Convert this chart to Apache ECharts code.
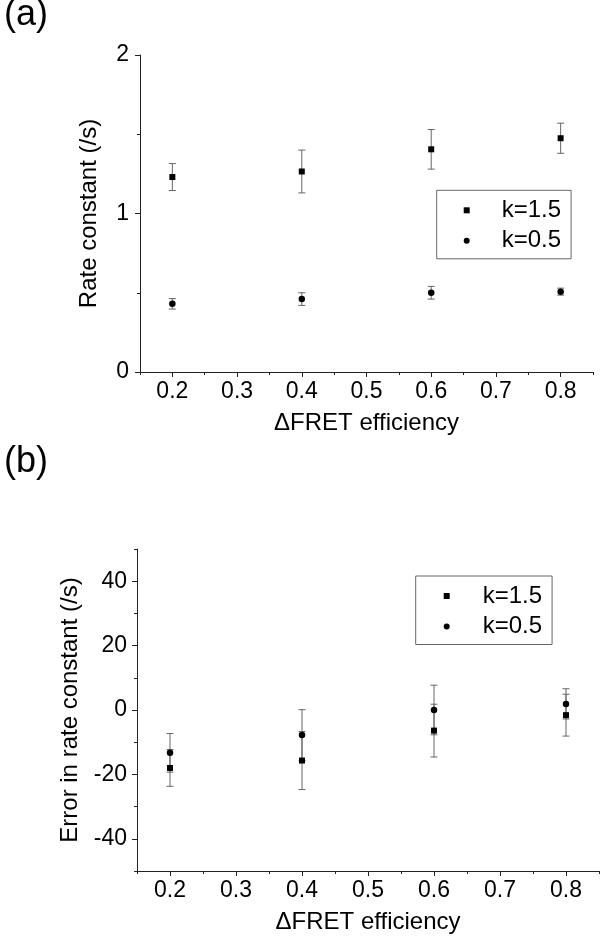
<!DOCTYPE html>
<html>
<head>
<meta charset="utf-8">
<script src="https://cdn.jsdelivr.net/npm/echarts@6/dist/echarts.min.js"></script>
<style>
html,body{margin:0;padding:0;background:#fff;}
#chart{width:600px;height:936px;}
</style>
</head>
<body>
<div id="chart"></div>
<script>
// ---- data ----
const xValues = [0.2, 0.4, 0.6, 0.8];
const xTickLabels = [0.2, 0.3, 0.4, 0.5, 0.6, 0.7, 0.8];
const seriesNames = ['k=1.5', 'k=0.5'];

// panel (a): rate constant (/s)
const rateK15 = [1.23, 1.265, 1.405, 1.475];
const rateK15Err = [0.085, 0.135, 0.125, 0.095];
const rateK05 = [0.43, 0.46, 0.50, 0.507];
const rateK05Err = [0.033, 0.04, 0.04, 0.022];

// panel (b): error in rate constant (/s)
const errK15 = [-18.0, -15.7, -6.4, -1.6];
const errK15Err = [5.7, 9.0, 8.2, 6.5];
const errK05 = [-13.3, -7.8, 0.0, 1.9];
const errK05Err = [6.0, 7.9, 7.7, 4.7];
const yTickLabelsB = [-40, -20, 0, 20, 40];

// ---- helpers ----
const FONT = 'Liberation Sans, Arial, sans-serif';
const AXIS_COLOR = '#222';
const pts = (ys) => xValues.map((x, i) => [x, ys[i]]);
const errPts = (ys, es) => xValues.map((x, i) => [x, ys[i], es[i]]);

function errRender(params, api) {
  const x = api.value(0), y = api.value(1), e = api.value(2);
  const top = api.coord([x, y + e]);
  const bot = api.coord([x, y - e]);
  const hw = 3.5;
  const style = { stroke: '#666', lineWidth: 1, fill: null };
  return {
    type: 'group',
    children: [
      { type: 'line', shape: { x1: top[0], y1: top[1], x2: bot[0], y2: bot[1] }, style },
      { type: 'line', shape: { x1: top[0] - hw, y1: top[1], x2: top[0] + hw, y2: top[1] }, style },
      { type: 'line', shape: { x1: bot[0] - hw, y1: bot[1], x2: bot[0] + hw, y2: bot[1] }, style }
    ]
  };
}

function mainX(gridIndex) {
  return {
    type: 'value', gridIndex, position: 'bottom',
    min: 0.15, max: 0.85, interval: 0.05,
    name: '\u0394FRET efficiency', nameLocation: 'middle', nameGap: 39,
    nameTextStyle: { fontFamily: FONT, fontSize: 24, color: '#000' },
    axisLine: { show: true, onZero: false, lineStyle: { color: AXIS_COLOR, width: 1 } },
    axisTick: { show: true, inside: false, length: 5, customValues: xTickLabels, lineStyle: { color: AXIS_COLOR } },
    axisLabel: { show: true, customValues: xTickLabels, margin: 8, fontFamily: FONT, fontSize: 23, color: '#000',
      formatter: (v) => (+v).toFixed(1) },
    splitLine: { show: false }
  };
}
function minorX(gridIndex) {
  return {
    type: 'value', gridIndex, position: 'bottom',
    min: 0.15, max: 0.85, interval: 0.05,
    axisLine: { show: false, onZero: false },
    axisTick: { show: true, inside: false, length: 3, lineStyle: { color: AXIS_COLOR } },
    axisLabel: { show: false },
    splitLine: { show: false }
  };
}

function legendFor(left, top, padLeft) {
  return {
    orient: 'vertical', left, top,
    data: [{ name: seriesNames[0], icon: 'rect' }, { name: seriesNames[1], icon: 'circle' }],
    itemWidth: 6, itemHeight: 6, itemGap: 6.5,
    padding: [8, 10, 6, padLeft],
    borderColor: '#666', borderWidth: 1, borderRadius: 0,
    backgroundColor: '#fff',
    selectedMode: false,
    itemStyle: { opacity: 1 },
    textStyle: { fontFamily: FONT, fontSize: 24, color: '#000', lineHeight: 24, padding: [0, 0, 0, padLeft] }
  };
}

const markerStyle = { color: '#000', opacity: 1 };

const option = {
  animation: false,
  backgroundColor: '#fff',
  title: [
    { text: '(a)', left: -1, top: -8, textStyle: { fontFamily: FONT, fontSize: 36, fontWeight: 'normal', color: '#000' } },
    { text: '(b)', left: -1, top: 439, textStyle: { fontFamily: FONT, fontSize: 36, fontWeight: 'normal', color: '#000' } }
  ],
  legend: [legendFor(436.7, 190.3, 27), legendFor(415.7, 576, 28)],
  grid: [
    { left: 140, top: 55, width: 453, height: 317 },
    { left: 137, top: 549, width: 462, height: 322 }
  ],
  xAxis: [mainX(0), minorX(0), mainX(1), minorX(1)],
  yAxis: [
    {
      type: 'value', gridIndex: 0, min: 0, max: 2, interval: 1,
      name: 'Rate constant (/s)', nameLocation: 'middle', nameGap: 39,
      nameTextStyle: { fontFamily: FONT, fontSize: 24, color: '#000' },
      axisLine: { show: true, onZero: false, lineStyle: { color: AXIS_COLOR, width: 1 } },
      axisTick: { show: true, inside: false, length: 5, lineStyle: { color: AXIS_COLOR } },
      minorTick: { show: true, splitNumber: 2, length: 3, lineStyle: { color: AXIS_COLOR } },
      axisLabel: { margin: 11, fontFamily: FONT, fontSize: 23, color: '#000' },
      splitLine: { show: false }, minorSplitLine: { show: false }
    },
    {
      type: 'value', gridIndex: 1, position: 'left', min: -50, max: 50, interval: 10,
      name: 'Error in rate constant (/s)', nameLocation: 'middle', nameGap: 55,
      nameTextStyle: { fontFamily: FONT, fontSize: 24, color: '#000' },
      axisLine: { show: true, onZero: false, lineStyle: { color: AXIS_COLOR, width: 1 } },
      axisTick: { show: true, inside: false, length: 5, customValues: yTickLabelsB, lineStyle: { color: AXIS_COLOR } },
      axisLabel: { margin: 10, customValues: yTickLabelsB, fontFamily: FONT, fontSize: 23, color: '#000' },
      splitLine: { show: false }
    },
    {
      type: 'value', gridIndex: 1, position: 'left', min: -50, max: 50, interval: 10,
      axisLine: { show: false, onZero: false },
      axisTick: { show: true, inside: false, length: 3, lineStyle: { color: AXIS_COLOR } },
      axisLabel: { show: false },
      splitLine: { show: false }
    }
  ],
  series: [
    { name: 'errA15', type: 'custom', xAxisIndex: 0, yAxisIndex: 0, renderItem: errRender, data: errPts(rateK15, rateK15Err), z: 1, silent: true },
    { name: 'errA05', type: 'custom', xAxisIndex: 0, yAxisIndex: 0, renderItem: errRender, data: errPts(rateK05, rateK05Err), z: 1, silent: true },
    { name: 'errB15', type: 'custom', xAxisIndex: 2, yAxisIndex: 1, renderItem: errRender, data: errPts(errK15, errK15Err), z: 1, silent: true },
    { name: 'errB05', type: 'custom', xAxisIndex: 2, yAxisIndex: 1, renderItem: errRender, data: errPts(errK05, errK05Err), z: 1, silent: true },
    { name: seriesNames[0], type: 'scatter', xAxisIndex: 0, yAxisIndex: 0, symbol: 'rect', symbolSize: 6, itemStyle: markerStyle, data: pts(rateK15), z: 3 },
    { name: seriesNames[1], type: 'scatter', xAxisIndex: 0, yAxisIndex: 0, symbol: 'circle', symbolSize: 6.5, itemStyle: markerStyle, data: pts(rateK05), z: 3 },
    { name: seriesNames[0], type: 'scatter', xAxisIndex: 2, yAxisIndex: 1, symbol: 'rect', symbolSize: 6, itemStyle: markerStyle, data: pts(errK15), z: 3 },
    { name: seriesNames[1], type: 'scatter', xAxisIndex: 2, yAxisIndex: 1, symbol: 'circle', symbolSize: 6.5, itemStyle: markerStyle, data: pts(errK05), z: 3 }
  ]
};

const chart = echarts.init(document.getElementById('chart'), null, { renderer: 'canvas' });
chart.setOption(option);
</script>
</body>
</html>
